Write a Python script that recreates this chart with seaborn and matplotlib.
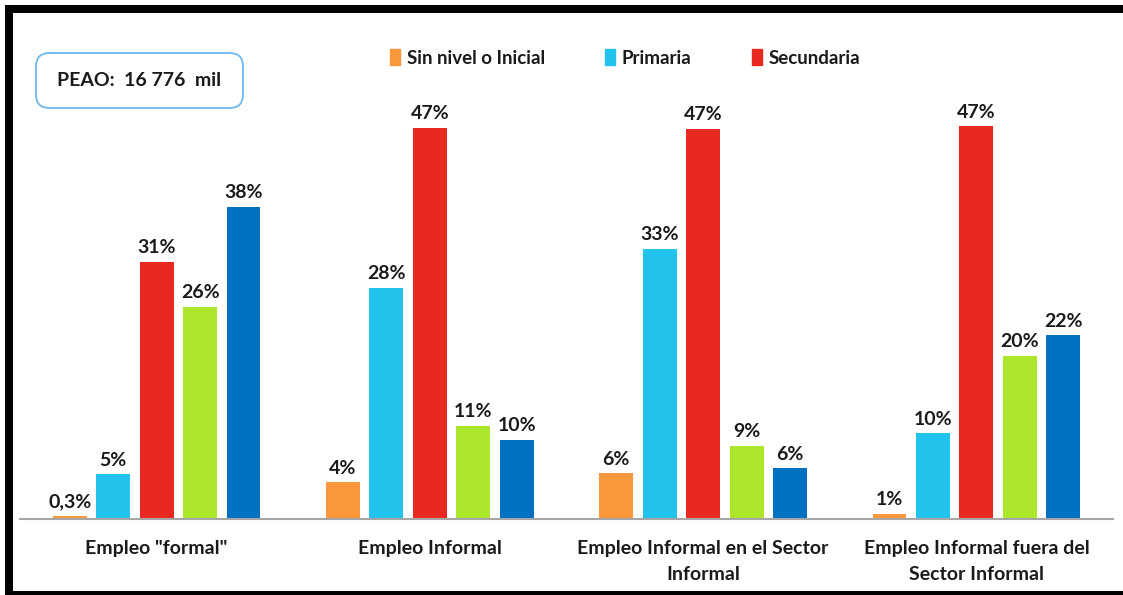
import matplotlib
matplotlib.use("Agg")
import matplotlib.pyplot as plt
import seaborn as sns
import pandas as pd
from matplotlib.patches import FancyBboxPatch, Rectangle

categories = ['Empleo "formal"', "Empleo Informal",
              "Empleo Informal en el Sector\nInformal",
              "Empleo Informal fuera del\nSector Informal"]
levels = ["Sin nivel o Inicial", "Primaria", "Secundaria",
          "Superior no universitaria", "Superior universitaria"]
sin_nivel = [0.35, 4.4, 5.5, 0.6]
primaria = [5.4, 27.8, 32.5, 10.3]
secundaria = [30.9, 47.0, 46.9, 47.2]
sup_no_univ = [25.5, 11.2, 8.8, 19.6]
sup_univ = [37.5, 9.5, 6.1, 22.1]
labels_sin_nivel = ["0,3%", "4%", "6%", "1%"]
labels_primaria = ["5%", "28%", "33%", "10%"]
labels_secundaria = ["31%", "47%", "47%", "47%"]
labels_sup_no_univ = ["26%", "11%", "9%", "20%"]
labels_sup_univ = ["38%", "10%", "6%", "22%"]
colors = ["#FA963C", "#22C3EC", "#E8291F", "#ADE72B", "#0070C0"]
peao_text = "PEAO:  16 776  mil"

series = [sin_nivel, primaria, secundaria, sup_no_univ, sup_univ]
series_labels = [labels_sin_nivel, labels_primaria, labels_secundaria,
                 labels_sup_no_univ, labels_sup_univ]
rows = []
for lev, vals in zip(levels, series):
    for cat, v in zip(categories, vals):
        rows.append({"categoria": cat, "nivel": lev, "valor": v})
df = pd.DataFrame(rows)

sns.set_theme(style="white")
plt.rcParams["font.family"] = ["Lato", "DejaVu Sans"]

W, H = 1123, 595
fig = plt.figure(figsize=(W / 100, H / 100), dpi=100)
ax = fig.add_axes([20 / W, (H - 519) / H, 1093 / W, 419 / H])

sns.barplot(data=df, x="categoria", y="valor", hue="nivel", order=categories,
            hue_order=levels, palette=colors, saturation=1, width=0.795,
            gap=0.22, linewidth=0, ax=ax, legend=False)

for cont, labs in zip(ax.containers, series_labels):
    ax.bar_label(cont, labels=labs, padding=4, fontsize=14,
                 fontweight="bold", color="#1a1a1a")

ax.set_xlim(-0.5, 3.5)
ax.set_ylim(0, 419 / 8.32)
ax.set_xlabel("")
ax.set_ylabel("")
ax.set_yticks([])
for s in ["top", "right", "left"]:
    ax.spines[s].set_visible(False)
ax.spines["bottom"].set_color("#A6A6A6")
ax.spines["bottom"].set_linewidth(1.5)
ax.spines["bottom"].set_zorder(5)
ax.tick_params(axis="x", length=0, pad=15, labelsize=14)
for t in ax.get_xticklabels():
    t.set_fontweight("bold")
    t.set_color("#1a1a1a")
    t.set_verticalalignment("top")
    t.set_linespacing(1.65)

# legend (first three levels)
handles = [Rectangle((0, 0), 1, 1, color=c) for c in colors[:3]]
leg = fig.legend(handles, levels[:3], loc="center left",
                 bbox_to_anchor=(390 / W, 1 - 58 / H), ncol=3, frameon=False,
                 handlelength=0.55, handleheight=0.9, handletextpad=0.35,
                 columnspacing=3.2, prop={"weight": "bold", "size": 13.5},
                 borderaxespad=0, borderpad=0)
for t in leg.get_texts():
    t.set_color("#1a1a1a")

# PEAO box
box = FancyBboxPatch((36 / W, 1 - 108 / H), 207 / W, 55 / H,
                     boxstyle="round,pad=0,rounding_size=0.012",
                     transform=fig.transFigure, facecolor="white",
                     edgecolor="#6CB8F0", linewidth=1.3, mutation_aspect=W / H)
fig.add_artist(box)
fig.text(139 / W, 1 - 81 / H, peao_text, ha="center", va="center",
         fontsize=14, fontweight="bold", color="#1a1a1a")

# black frame (top, left, bottom)
fig.add_artist(Rectangle((5 / W, 1 - 13 / H), 1 - 5 / W, 8 / H,
                         transform=fig.transFigure, color="black", lw=0))
fig.add_artist(Rectangle((5 / W, 0), 8 / W, 1 - 5 / H,
                         transform=fig.transFigure, color="black", lw=0))
fig.add_artist(Rectangle((5 / W, 0), 1 - 5 / W, 4 / H,
                         transform=fig.transFigure, color="black", lw=0))

fig.savefig("out.png", dpi=100)
